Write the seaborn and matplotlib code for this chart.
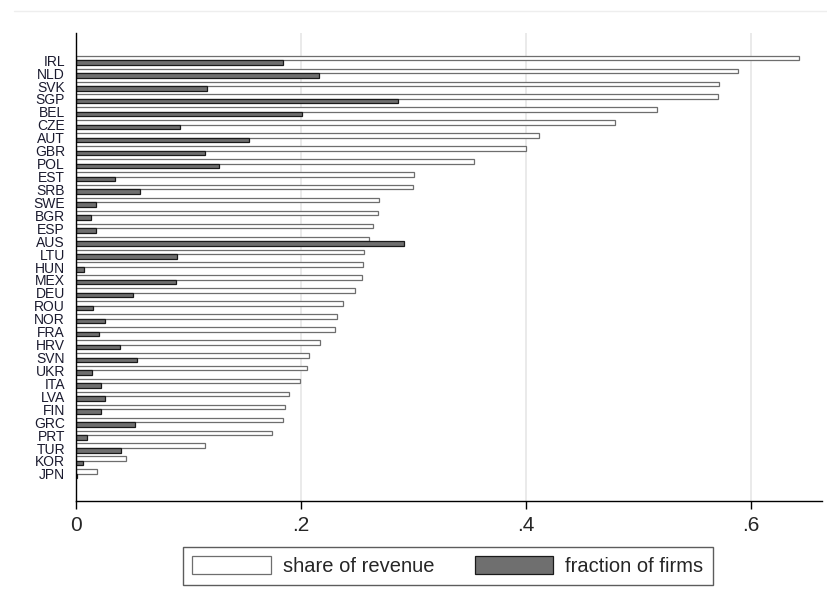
"""Share of revenue vs fraction of firms by country, horizontal grouped bars."""
import pandas as pd
import matplotlib
matplotlib.use('Agg')
import matplotlib.pyplot as plt
from matplotlib.lines import Line2D
import seaborn as sns

countries = ['IRL', 'NLD', 'SVK', 'SGP', 'BEL', 'CZE', 'AUT', 'GBR', 'POL', 'EST', 'SRB',
             'SWE', 'BGR', 'ESP', 'AUS', 'LTU', 'HUN', 'MEX', 'DEU', 'ROU', 'NOR', 'FRA',
             'HRV', 'SVN', 'UKR', 'ITA', 'LVA', 'FIN', 'GRC', 'PRT', 'TUR', 'KOR', 'JPN']
share_of_revenue = [0.642, 0.588, 0.571, 0.570, 0.516, 0.479, 0.411, 0.400, 0.354, 0.300, 0.299,
                    0.269, 0.268, 0.264, 0.260, 0.256, 0.255, 0.254, 0.248, 0.237, 0.232, 0.230,
                    0.217, 0.207, 0.205, 0.199, 0.189, 0.186, 0.184, 0.174, 0.115, 0.044, 0.019]
fraction_of_firms = [0.184, 0.216, 0.116, 0.286, 0.201, 0.092, 0.154, 0.115, 0.127, 0.035, 0.057,
                     0.018, 0.013, 0.018, 0.291, 0.090, 0.007, 0.089, 0.051, 0.015, 0.026, 0.020,
                     0.039, 0.054, 0.014, 0.022, 0.026, 0.022, 0.052, 0.010, 0.040, 0.006, 0.001]
series_names = ['share of revenue', 'fraction of firms']
x_ticks = [0, 0.2, 0.4, 0.6]
x_tick_labels = ['0', '.2', '.4', '.6']

sns.set_style('white')
plt.rcParams['font.family'] = ['Liberation Sans', 'DejaVu Sans']

df = pd.DataFrame({
    'country': countries * 2,
    'value': share_of_revenue + fraction_of_firms,
    'series': [series_names[0]] * len(countries) + [series_names[1]] * len(countries),
})

fig = plt.figure(figsize=(8.28, 6.07), dpi=100)
ax = fig.add_axes([0.0918, 0.1746, 0.9012, 0.771])

sns.barplot(data=df, x='value', y='country', hue='series', hue_order=series_names,
            order=countries, orient='h', width=0.7, saturation=1, legend=False,
            palette=['white', '#7f7f7f'], ax=ax)

# stata-like mono style: white bars with grey rim, grey bars with dark rim
styles = [('white', '#6e6e6e'), ('#6f6f6f', '#1a1a1a')]
for cont, (fc, ec) in zip(ax.containers, styles):
    for p in cont.patches:
        p.set_facecolor(fc)
        p.set_edgecolor(ec)
        p.set_linewidth(0.9)

ax.set_xlim(0, 0.663)
ax.set_ylim(len(countries) + 1.1, -2.1)
ax.set_xticks(x_ticks)
ax.set_xticklabels(x_tick_labels, fontsize=15)
ax.set_xlabel('')
ax.set_ylabel('')
ax.grid(axis='x', color='#e6e6e6', linewidth=1.2)
ax.grid(axis='y', visible=False)
ax.set_axisbelow(True)
for side in ['top', 'right']:
    ax.spines[side].set_visible(False)
for side in ['left', 'bottom']:
    ax.spines[side].set_color('black')
    ax.spines[side].set_linewidth(1.0)
ax.tick_params(axis='x', length=6, width=1, color='black', pad=5)
ax.tick_params(axis='y', length=0, labelsize=10, pad=8, labelcolor='#1a1a2e')
ax.xaxis.set_ticks_position('bottom')

leg = fig.legend(ax.containers, series_names, loc='center', bbox_to_anchor=(0.541, 0.0675),
                 ncol=2, prop={'size': 14.5}, frameon=True, fancybox=False,
                 edgecolor='#333333', handlelength=3.9, handleheight=1.0, handletextpad=0.6,
                 columnspacing=2.0, borderpad=0.45)
leg.get_frame().set_linewidth(1.0)

fig.add_artist(Line2D([0.017, 1.0], [1 - 11 / 607, 1 - 11 / 607], color='#eeeeee',
                      linewidth=1, transform=fig.transFigure))

fig.savefig('out.png', dpi=100, facecolor='white')
